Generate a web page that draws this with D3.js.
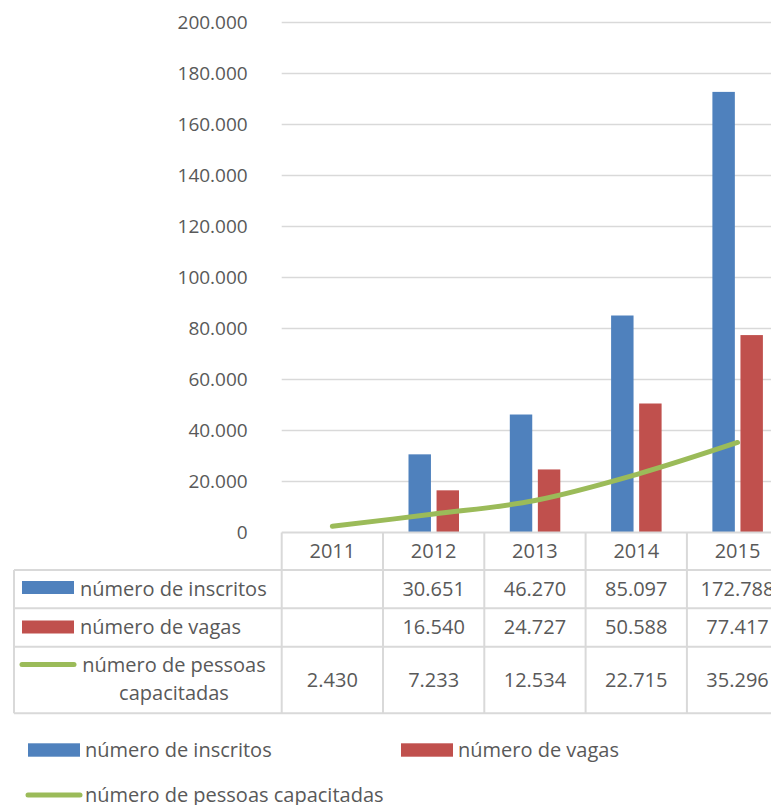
<!DOCTYPE html>
<html>
<head>
<meta charset="utf-8">
<script src="https://cdn.jsdelivr.net/npm/d3@7"></script>
<style>
  body { margin: 0; background: #fff; }
  text { font-family: "Open Sans", sans-serif; fill: #595959; }
</style>
</head>
<body>
<svg id="chart"></svg>
<script>
const years = ["2011", "2012", "2013", "2014", "2015"];
const inscritos = [null, 30651, 46270, 85097, 172788];
const vagas = [null, 16540, 24727, 50588, 77417];
const capacitadas = [2430, 7233, 12534, 22715, 35296];
const yTicks = [0, 20000, 40000, 60000, 80000, 100000, 120000, 140000, 160000, 180000, 200000];

const seriesNames = ["número de inscritos", "número de vagas", "número de pessoas capacitadas"];
const blue = "#4F81BD", red = "#C0504D", green = "#9BBB59";
const grid = "#D9D9D9";

const w = 771, h = 805;
const svg = d3.select("#chart").attr("width", w).attr("height", h);

const left = 281.7, bandW = 101.3;
const x = d3.scaleBand().domain(years).range([left, left + bandW * years.length]);
const y = d3.scaleLinear().domain([0, 200000]).range([532.5, 22.5]);
const inner = d3.scaleBand().domain(["ins", "vag"]).range([25.5, 76]).paddingInner(0.2);

const fmt = d3.formatLocale({ decimal: ",", thousands: ".", grouping: [3], currency: ["", ""] }).format(",d");

// grid
svg.append("g").selectAll("line").data(yTicks.slice(1)).join("line")
  .attr("x1", left).attr("x2", x.range()[1])
  .attr("y1", d => y(d)).attr("y2", d => y(d))
  .attr("stroke", grid).attr("stroke-width", 1.5);

// y axis
const yAxis = d3.axisLeft(y).tickValues(yTicks).tickFormat(fmt).tickSize(0).tickPadding(34);
const ya = svg.append("g").attr("transform", `translate(${left},0)`).call(yAxis);
ya.select(".domain").remove();
ya.selectAll("text").style("font-size", "19px").attr("fill", "#595959")
  .style("font-family", '"Open Sans", sans-serif');

// bars
const g = svg.append("g");
g.selectAll(".ins").data(years.map((yr, i) => [yr, inscritos[i]]).filter(d => d[1] != null)).join("rect")
  .attr("x", d => x(d[0]) + inner("ins")).attr("width", inner.bandwidth())
  .attr("y", d => y(d[1])).attr("height", d => y(0) - y(d[1])).attr("fill", blue);
g.selectAll(".vag").data(years.map((yr, i) => [yr, vagas[i]]).filter(d => d[1] != null)).join("rect")
  .attr("x", d => x(d[0]) + inner("vag")).attr("width", inner.bandwidth())
  .attr("y", d => y(d[1])).attr("height", d => y(0) - y(d[1])).attr("fill", red);

// baseline
svg.append("line").attr("x1", left).attr("x2", x.range()[1])
  .attr("y1", y(0)).attr("y2", y(0)).attr("stroke", grid).attr("stroke-width", 2);

// line
const line = d3.line().x((d, i) => x(years[i]) + x.bandwidth() / 2).y(d => y(d)).curve(d3.curveCatmullRom);
svg.append("path").datum(capacitadas).attr("d", line)
  .attr("fill", "none").attr("stroke", green).attr("stroke-width", 5).attr("stroke-linecap", "round");

// data table
const rowY = [570, 608.3, 646.7, 713.3];
const tableLeft = 14, tableRight = x.range()[1];
const t = svg.append("g");
// horizontal lines
t.selectAll(".hl").data(rowY).join("line")
  .attr("x1", tableLeft).attr("x2", tableRight).attr("y1", d => d).attr("y2", d => d)
  .attr("stroke", grid).attr("stroke-width", 2);
// vertical lines for year columns
t.selectAll(".vl").data(years.concat(["end"])).join("line")
  .attr("x1", (d, i) => left + i * x.step()).attr("x2", (d, i) => left + i * x.step())
  .attr("y1", y(0)).attr("y2", rowY[3])
  .attr("stroke", grid).attr("stroke-width", 2);
t.append("line").attr("x1", tableLeft).attr("x2", tableLeft).attr("y1", rowY[0]).attr("y2", rowY[3])
  .attr("stroke", grid).attr("stroke-width", 2);

// header years
t.selectAll(".yr").data(years).join("text")
  .attr("x", d => x(d) + x.bandwidth() / 2).attr("y", 551).attr("dy", "0.35em")
  .attr("text-anchor", "middle").style("font-size", "20px").text(d => d);

// values
const rowsData = [inscritos, vagas, capacitadas];
const rowMid = [589.3, 627, 680];
rowsData.forEach((vals, r) => {
  t.selectAll(".v" + r).data(vals).join("text")
    .attr("x", (d, i) => x(years[i]) + x.bandwidth() / 2).attr("y", rowMid[r]).attr("dy", "0.35em")
    .attr("text-anchor", "middle").style("font-size", "20px")
    .text(d => d == null ? "" : fmt(d));
});

// row labels with keys
t.append("rect").attr("x", 22).attr("y", 581).attr("width", 52).attr("height", 13).attr("fill", blue);
t.append("text").attr("x", 80).attr("y", rowMid[0]).attr("dy", "0.35em").style("font-size", "20px").text(seriesNames[0]);
t.append("rect").attr("x", 22).attr("y", 620.5).attr("width", 52).attr("height", 13).attr("fill", red);
t.append("text").attr("x", 80).attr("y", rowMid[1]).attr("dy", "0.35em").style("font-size", "20px").text(seriesNames[1]);
t.append("line").attr("x1", 22).attr("x2", 74).attr("y1", 664.5).attr("y2", 664.5)
  .attr("stroke", green).attr("stroke-width", 5).attr("stroke-linecap", "round");
t.append("text").attr("x", 174).attr("y", 665).attr("dy", "0.35em").attr("text-anchor", "middle")
  .style("font-size", "20px").text("número de pessoas");
t.append("text").attr("x", 174).attr("y", 693).attr("dy", "0.35em").attr("text-anchor", "middle")
  .style("font-size", "20px").text("capacitadas");

// legend
const lg = svg.append("g");
lg.append("rect").attr("x", 28).attr("y", 743.3).attr("width", 52).attr("height", 13.4).attr("fill", blue);
lg.append("text").attr("x", 85).attr("y", 750).attr("dy", "0.35em").style("font-size", "20px").text(seriesNames[0]);
lg.append("rect").attr("x", 401).attr("y", 743.3).attr("width", 52).attr("height", 13.4).attr("fill", red);
lg.append("text").attr("x", 458).attr("y", 750).attr("dy", "0.35em").style("font-size", "20px").text(seriesNames[1]);
lg.append("line").attr("x1", 28).attr("x2", 80).attr("y1", 795).attr("y2", 795)
  .attr("stroke", green).attr("stroke-width", 5).attr("stroke-linecap", "round");
lg.append("text").attr("x", 85).attr("y", 795).attr("dy", "0.35em").style("font-size", "20px").text(seriesNames[2]);
</script>
</body>
</html>
